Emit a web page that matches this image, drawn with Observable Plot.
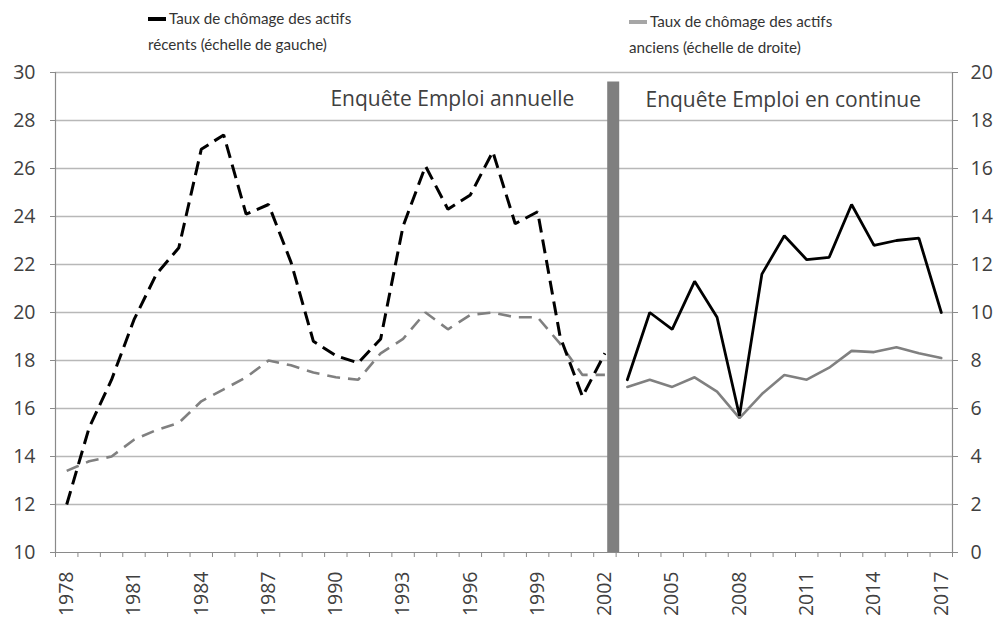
<!DOCTYPE html>
<html><head><meta charset="utf-8">
<script src="https://cdn.jsdelivr.net/npm/d3@7"></script>
<script src="https://cdn.jsdelivr.net/npm/@observablehq/plot@0.6"></script>
<style>
body{margin:0;background:#fff;}
#wrap{position:relative;width:1000px;height:620px;}
.leg{position:absolute;font-family:Lato,sans-serif;font-size:15.2px;color:#333;line-height:26px;white-space:nowrap;}
.sw{display:inline-block;width:18px;height:4px;vertical-align:middle;margin-right:3px;position:relative;top:-1px;}
</style></head>
<body><div id="wrap"></div>
<script>
// ---- data ----
const yearsAnnual = [1978,1979,1980,1981,1982,1983,1984,1985,1986,1987,1988,1989,1990,1991,1992,1993,1994,1995,1996,1997,1998,1999,2000,2001,2002];
const recentAnnual = [12.0,15.2,17.2,19.7,21.6,22.7,26.8,27.4,24.1,24.5,22.1,18.8,18.2,17.9,18.9,23.6,26.1,24.3,24.9,26.7,23.7,24.2,19.0,16.5,18.3];
const seniorAnnual = [3.4,3.8,4.0,4.7,5.1,5.4,6.3,6.8,7.3,8.0,7.8,7.5,7.3,7.2,8.3,8.9,10.0,9.3,9.9,10.0,9.8,9.8,8.7,7.4,7.4];
const yearsContinu = [2003,2004,2005,2006,2007,2008,2009,2010,2011,2012,2013,2014,2015,2016,2017];
const recentContinu = [17.2,20.0,19.3,21.3,19.8,15.7,21.6,23.2,22.2,22.3,24.5,22.8,23.0,23.1,20.0];
const seniorContinu = [6.9,7.2,6.9,7.3,6.7,5.6,6.6,7.4,7.2,7.7,8.4,8.35,8.55,8.3,8.1];
const leftTicks = [10,12,14,16,18,20,22,24,26,28,30];
const rightTicks = [0,2,4,6,8,10,12,14,16,18,20];
const labelYears = [1978,1981,1984,1987,1990,1993,1996,1999,2002,2005,2008,2011,2014,2017];
const legendLabels = [["Taux de chômage des actifs","récents (échelle de gauche)"],["Taux de chômage des actifs","anciens (échelle de droite)"]];
const annotations = [
  {text:"Enquête Emploi annuelle", year:1995.2, rate:28.9},
  {text:"Enquête Emploi en continue", year:2009.95, rate:28.85}
];
const surveyBreak = {year:2002.37, top:29.6};

// ---- derived ----
const rightOffset = leftTicks[0] - rightTicks[0]; // right scale = left - 10
const allYears = yearsAnnual.concat(yearsContinu);
const xDomain = [allYears[0]-0.5, allYears[allYears.length-1]+0.5];
const boundaries = allYears.map(y=>y-0.5).concat([xDomain[1]]);
const rec1 = yearsAnnual.map((y,i)=>({year:y, v:recentAnnual[i]}));
const sen1 = yearsAnnual.map((y,i)=>({year:y, v:seniorAnnual[i]+rightOffset}));
const rec2 = yearsContinu.map((y,i)=>({year:y, v:recentContinu[i]}));
const sen2 = yearsContinu.map((y,i)=>({year:y, v:seniorContinu[i]+rightOffset}));
const axisCol = "#8a8a8a";

const chart = Plot.plot({
  width:1000, height:620,
  marginLeft:55, marginRight:48, marginTop:72, marginBottom:68,
  x:{domain:xDomain},
  y:{domain:[leftTicks[0], leftTicks[leftTicks.length-1]]},
  style:{fontFamily:"'Open Sans',sans-serif", fontSize:"19.5px", color:"#404040", background:"#fff"},
  marks:[
    Plot.ruleY(leftTicks.slice(1), {stroke:"#b8b8b8", strokeWidth:1.4}),
    Plot.ruleX(xDomain, {stroke:axisCol, strokeWidth:1.2}),
    Plot.ruleY([leftTicks[0]], {stroke:axisCol, strokeWidth:1.2}),
    Plot.axisY({ticks:leftTicks, anchor:"left", tickSize:5, tickPadding:15, label:null, stroke:axisCol, tickFormat:d=>String(d)}),
    Plot.axisY({ticks:leftTicks, anchor:"right", tickSize:5, tickPadding:13, label:null, stroke:axisCol, tickFormat:d=>String(d-rightOffset)}),
    Plot.axisX({ticks:boundaries, anchor:"bottom", tickSize:5, tickFormat:()=>"", label:null, stroke:axisCol}),
    Plot.axisX({ticks:labelYears, anchor:"bottom", tickSize:0, tickPadding:19, tickRotate:-90, label:null, tickFormat:d=>String(d)}),
    Plot.ruleX([surveyBreak], {x:"year", y1:leftTicks[0], y2:"top", stroke:"#7f7f7f", strokeWidth:12}),
    Plot.lineY(sen1, {x:"year", y:"v", stroke:"#808080", strokeWidth:2.6, strokeDasharray:"13,8", strokeLinecap:"butt", strokeLinejoin:"miter"}),
    Plot.lineY(sen2, {x:"year", y:"v", stroke:"#808080", strokeWidth:2.6, strokeLinejoin:"miter"}),
    Plot.lineY(rec1, {x:"year", y:"v", stroke:"#000", strokeWidth:3, strokeDasharray:"14,7", strokeLinecap:"butt", strokeLinejoin:"miter"}),
    Plot.lineY(rec2, {x:"year", y:"v", stroke:"#000", strokeWidth:2.8, strokeLinejoin:"miter"}),
    Plot.text(annotations, {x:"year", y:"rate", text:"text", fontSize:21, fill:"#404040"})
  ]
});
const wrap = document.getElementById("wrap");
wrap.appendChild(chart);
const legPos = [{left:148, top:5, color:"#000"}, {left:629, top:8, color:"#a6a6a6"}];
legendLabels.forEach((lines,i)=>{
  const d = document.createElement("div");
  d.className = "leg";
  d.style.left = legPos[i].left+"px"; d.style.top = legPos[i].top+"px";
  d.innerHTML = `<span class="sw" style="background:${legPos[i].color}"></span>${lines[0]}<br>${lines[1]}`;
  wrap.appendChild(d);
});
</script>
</body></html>
